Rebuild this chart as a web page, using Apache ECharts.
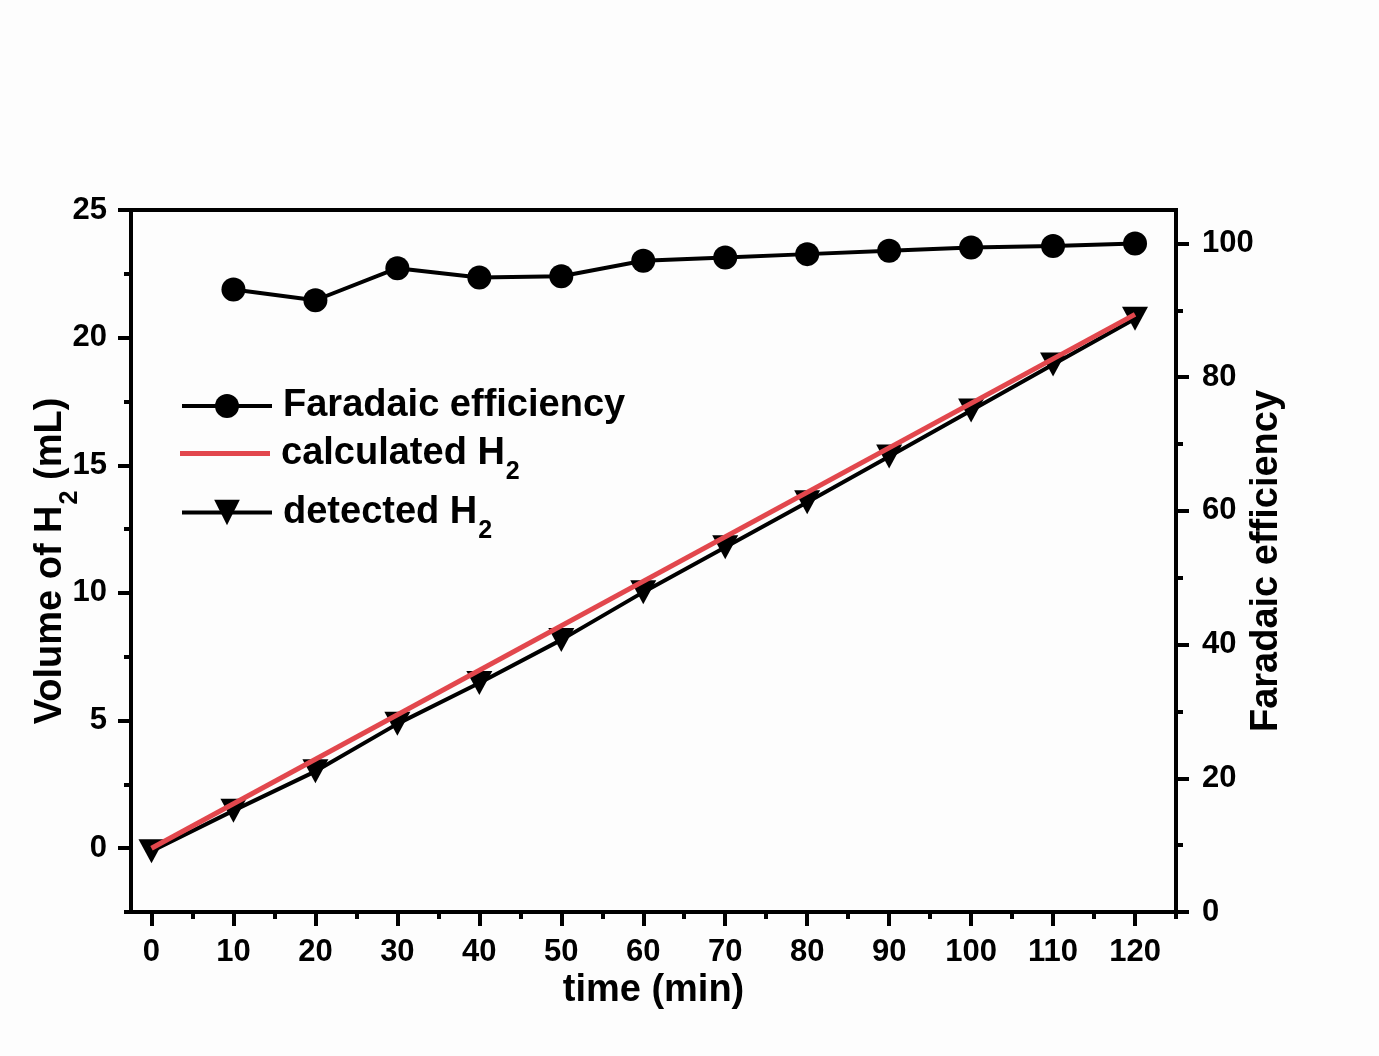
<!DOCTYPE html>
<html>
<head>
<meta charset="utf-8">
<script src="https://cdn.jsdelivr.net/npm/echarts@6/dist/echarts.min.js"></script>
<style>
  html, body { margin: 0; padding: 0; background: #fdfdfd; }
  #chart { width: 1379px; height: 1056px; }
</style>
</head>
<body>
<div id="chart"></div>
<script>
// time points (min)
const timeMin = [0, 10, 20, 30, 40, 50, 60, 70, 80, 90, 100, 110, 120]
const feTime = [10, 20, 30, 40, 50, 60, 70, 80, 90, 100, 110, 120]

// Faradaic efficiency (%) - right axis
const faradaicEff = [93.1, 91.5, 96.3, 94.9, 95.1, 97.4, 97.9, 98.4, 98.9, 99.4, 99.6, 100.0]
// detected H2 volume (mL)
const detectedH2 = [-0.12, 1.47, 3.01, 4.87, 6.47, 8.16, 10.03, 11.79, 13.55, 15.34, 17.15, 18.95, 20.74]
// calculated H2 volume (mL) - straight line, end points
const calcTime = [0, 120]
const calculatedH2 = [0, 20.91]

// tick labels
const xTicks = [0, 10, 20, 30, 40, 50, 60, 70, 80, 90, 100, 110, 120]
const xMinorTicks = [5, 15, 25, 35, 45, 55, 65, 75, 85, 95, 105, 115, 125]
const leftTicks = [0, 5, 10, 15, 20, 25]
const leftMinorTicks = [-2.5, 2.5, 7.5, 12.5, 17.5, 22.5]
const rightTicks = [0, 20, 40, 60, 80, 100]
const rightMinorTicks = [10, 30, 50, 70, 90]

const FONT = "'Liberation Sans', Arial, sans-serif"
const BLACK = '#000000'
const RED = '#e2474d'

const zip = (xs, ys) => xs.map((x, i) => [x, ys[i]])

// main text + dropped subscript (padding-top pushes the "2" down)
const textBig = { fontSize: 38, fontWeight: 'bold', fontFamily: FONT, color: BLACK, lineHeight: 40 }
const subRich = {
  m: textBig,
  f: Object.assign({}, textBig, { padding: [0, 0, 0, 6] }),
  s: { fontSize: 25, fontWeight: 'bold', fontFamily: FONT, color: BLACK, lineHeight: 40, padding: [38, 0, 0, 1] },
}

const axisLine = { show: true, onZero: false, lineStyle: { color: BLACK, width: 4 } }
const noLine = { show: false, onZero: false }
const labelStyle = { fontSize: 31, fontWeight: 'bold', fontFamily: FONT, color: BLACK }
const tickStyle = { color: BLACK, width: 4 }

const legendBase = {
  orient: 'vertical',
  left: 180,
  padding: 0,
  itemWidth: 90,
  lineStyle: { width: 4 },
  textStyle: { rich: subRich, fontSize: 38, fontWeight: 'bold', fontFamily: FONT, color: BLACK, lineHeight: 40 },
  formatter: (name) => {
    if (name === 'calculated H2') return '{f|calculated H}{s|2}'
    if (name === 'detected H2') return '{f|detected H}{s|2}'
    return '{f|' + name + '}'
  },
}

const chart = echarts.init(document.getElementById('chart'))

chart.setOption({
  backgroundColor: '#fdfdfd',
  animation: false,
  grid: {
    left: 131, right: 203, top: 210, bottom: 144,
    containLabel: false, outerBoundsMode: 'none',
    show: true, borderColor: BLACK, borderWidth: 4, backgroundColor: 'transparent',
  },
  legend: [
    Object.assign({}, legendBase, { data: ['Faradaic efficiency'], top: 386, itemHeight: 30 }),
    Object.assign({}, legendBase, { data: [{ name: 'calculated H2', icon: 'rect' }], top: 422, itemHeight: 5 }),
    Object.assign({}, legendBase, { data: ['detected H2'], top: 481, itemHeight: 32 }),
  ],
  xAxis: [
    {
      type: 'value', min: -2.5, max: 125, position: 'bottom',
      name: 'time (min)', nameLocation: 'middle', nameGap: 60, nameMoveOverlap: false,
      nameTextStyle: { fontSize: 38, fontWeight: 'bold', fontFamily: FONT, color: BLACK },
      axisLine,
      axisTick: { show: true, customValues: xTicks, length: 14, lineStyle: tickStyle },
      axisLabel: Object.assign({ customValues: xTicks, margin: 25 }, labelStyle),
      splitLine: { show: false },
    },
    {
      type: 'value', min: -2.5, max: 125, position: 'bottom',
      axisLine: noLine,
      axisTick: { show: true, customValues: xMinorTicks, length: 7, lineStyle: tickStyle },
      axisLabel: { show: false },
      splitLine: { show: false },
    },
  ],
  yAxis: [
    {
      type: 'value', min: -2.5, max: 25, position: 'left',
      name: '{m|Volume of H}{s|2}{m| (mL)}', nameLocation: 'middle', nameGap: 60, nameRotate: 90,
      nameMoveOverlap: false,
      nameTextStyle: { rich: subRich },
      axisLine,
      axisTick: { show: true, customValues: leftTicks, length: 13, lineStyle: tickStyle },
      axisLabel: Object.assign({ customValues: leftTicks, margin: 24 }, labelStyle),
      splitLine: { show: false },
    },
    {
      type: 'value', min: 0, max: 105, position: 'right',
      name: 'Faradaic efficiency', nameLocation: 'middle', nameGap: 72, nameRotate: 90,
      nameMoveOverlap: false,
      nameTextStyle: { fontSize: 38, fontWeight: 'bold', fontFamily: FONT, color: BLACK },
      axisLine,
      axisTick: { show: true, customValues: rightTicks, length: 13, lineStyle: tickStyle },
      axisLabel: Object.assign({ customValues: rightTicks, margin: 26 }, labelStyle),
      splitLine: { show: false },
    },
    {
      type: 'value', min: -2.5, max: 25, position: 'left',
      axisLine: noLine,
      axisTick: { show: true, customValues: leftMinorTicks, length: 7, lineStyle: tickStyle },
      axisLabel: { show: false },
      splitLine: { show: false },
    },
    {
      type: 'value', min: 0, max: 105, position: 'right',
      axisLine: noLine,
      axisTick: { show: true, customValues: rightMinorTicks, length: 7, lineStyle: tickStyle },
      axisLabel: { show: false },
      splitLine: { show: false },
    },
  ],
  series: [
    {
      name: 'detected H2', type: 'line', xAxisIndex: 0, yAxisIndex: 0, z: 2,
      data: zip(timeMin, detectedH2),
      symbol: 'triangle', symbolRotate: 180, symbolSize: [26, 24],
      itemStyle: { color: BLACK },
      lineStyle: { color: BLACK, width: 4 },
    },
    {
      name: 'calculated H2', type: 'line', xAxisIndex: 0, yAxisIndex: 0, z: 3,
      data: zip(calcTime, calculatedH2),
      showSymbol: false,
      itemStyle: { color: RED },
      lineStyle: { color: RED, width: 5 },
    },
    {
      name: 'Faradaic efficiency', type: 'line', xAxisIndex: 0, yAxisIndex: 1, z: 2,
      data: zip(feTime, faradaicEff),
      symbol: 'circle', symbolSize: 24,
      itemStyle: { color: BLACK },
      lineStyle: { color: BLACK, width: 4 },
    },
  ],
})
</script>
</body>
</html>
